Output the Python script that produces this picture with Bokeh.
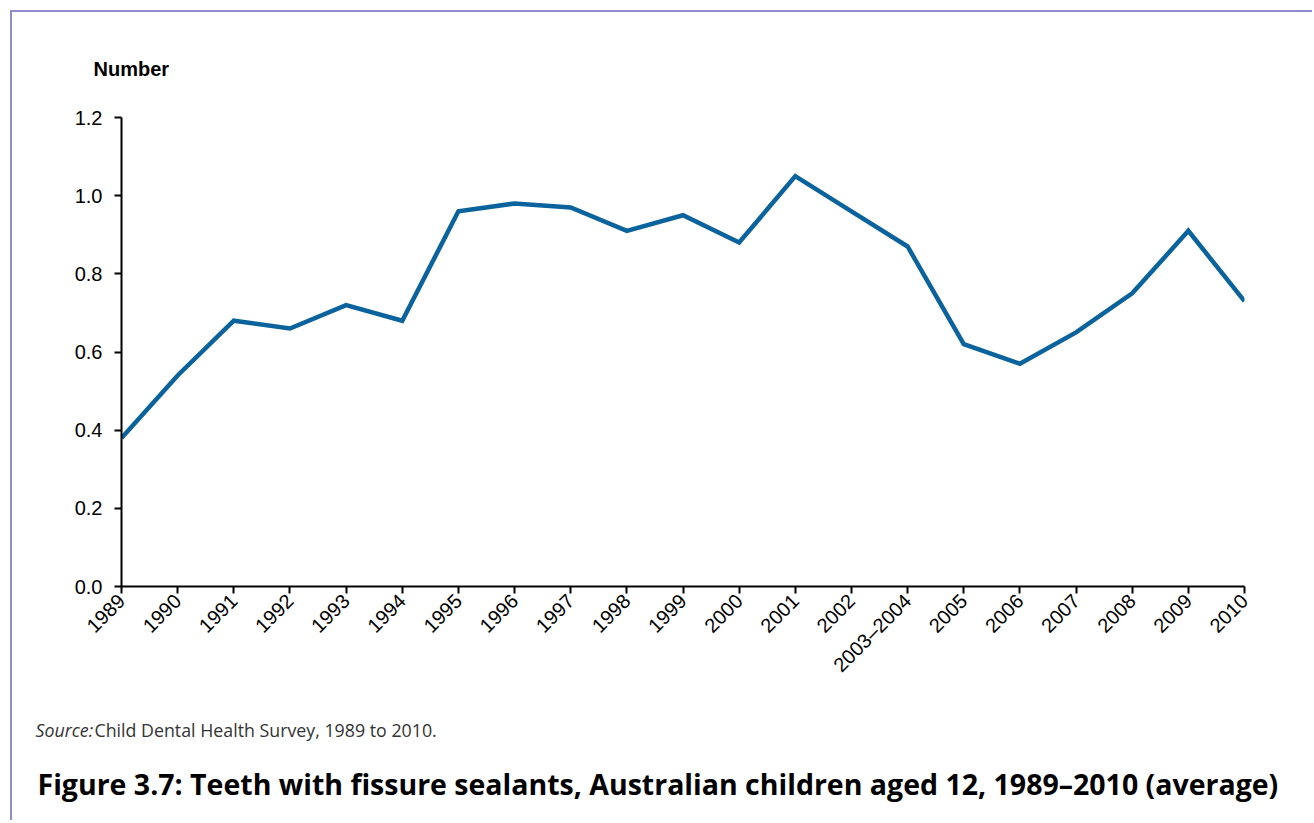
import math
from bokeh.plotting import figure
from bokeh.models import Range1d, FixedTicker, Label, NumeralTickFormatter
from bokeh.layouts import column
from bokeh.embed import file_html
from bokeh.resources import INLINE

years = ["1989", "1990", "1991", "1992", "1993", "1994", "1995", "1996", "1997",
         "1998", "1999", "2000", "2001", "2002", "2003\u20132004", "2005", "2006",
         "2007", "2008", "2009", "2010"]
sealants = [0.38, 0.54, 0.68, 0.66, 0.72, 0.68, 0.96, 0.98, 0.97, 0.91, 0.95,
            0.88, 1.05, 0.96, 0.87, 0.62, 0.57, 0.65, 0.75, 0.91, 0.73]
y_ticks = [0.0, 0.2, 0.4, 0.6, 0.8, 1.0, 1.2]

y_axis_title = "Number"
source_lead = "Source:"
source_text = "Child Dental Health Survey, 1989 to 2010."
fig_title = "Figure 3.7: Teeth with fissure sealants, Australian children aged 12, 1989\u20132010 (average)"

xs = list(range(len(years)))

W = 1300
OX, OY = 12, 12          # page position of the column content
TOP_H, MAIN_H, BOT_H = 88, 600, 120

def blank(height):
    f = figure(width=W, height=height, output_backend="svg", toolbar_location=None,
               x_range=Range1d(0, W), y_range=Range1d(0, height),
               min_border=0, title=None, frame_align=False)
    f.axis.visible = False
    f.grid.visible = False
    f.outline_line_color = None
    return f

# --- top strip: axis title
top = blank(TOP_H)
top.add_layout(Label(x=93 - OX, y=TOP_H - (68 - OY), text=y_axis_title,
                     text_font="Liberation Sans", text_font_style="bold",
                     text_font_size="20px", text_color="black", text_baseline="alphabetic"))

# --- main chart
main_top = OY + TOP_H
frame_left = 121 - OX
frame_right = 1244 - OX
frame_top = 117 - main_top
frame_bottom = 586 - main_top

p = figure(width=W, height=MAIN_H, output_backend="svg", toolbar_location=None,
           x_range=Range1d(0, len(years) - 1), y_range=Range1d(0, 1.2),
           min_border_left=frame_left, min_border_right=W - frame_right,
           min_border_top=frame_top, min_border_bottom=MAIN_H - frame_bottom,
           title=None, frame_align=False)
p.outline_line_color = None
p.grid.visible = False

p.line(xs, sealants, line_color="#0a639c", line_width=4.5, line_join="miter")

ax = p.xaxis[0]
ax.ticker = FixedTicker(ticks=xs)
ax.major_label_overrides = {i: lab for i, lab in enumerate(years)}
ax.major_label_orientation = math.pi / 4
ay = p.yaxis[0]
ay.ticker = FixedTicker(ticks=y_ticks)
ay.formatter = NumeralTickFormatter(format="0.0")
for a in (ax, ay):
    a.major_label_text_font = "Liberation Sans"
    a.major_label_text_font_size = "20px"
    a.major_label_text_color = "black"
    a.axis_line_color = "black"
    a.axis_line_width = 2
    a.major_tick_line_color = "black"
    a.major_tick_line_width = 2
    a.major_tick_out = 7
    a.major_tick_in = 0
    a.minor_tick_line_color = None
ax.major_label_standoff = 4
ay.major_label_standoff = 12

# --- bottom strip: source and caption
bot_top = main_top + MAIN_H
bot = blank(BOT_H)
bot.add_layout(Label(x=35 - OX, y=BOT_H - (729 - bot_top), text=source_lead,
                     text_font="Open Sans", text_font_style="italic",
                     text_font_size="17.8px", text_color="#333333", text_baseline="alphabetic"))
bot.add_layout(Label(x=94 - OX, y=BOT_H - (729 - bot_top), text=source_text,
                     text_font="Open Sans", text_font_size="17.8px",
                     text_color="#333333", text_baseline="alphabetic"))
bot.add_layout(Label(x=37 - OX, y=BOT_H - (783 - bot_top), text=fig_title,
                     text_font="Open Sans", text_font_style="bold",
                     text_font_size="28.5px", text_color="black", text_baseline="alphabetic"))

layout = column(top, p, bot, spacing=0,
                styles={"margin-left": "10px", "margin-top": "10px",
                        "border-top": "2px solid #8c8cd0", "border-left": "2px solid #8c8cd0"})

open("out.html", "w").write(file_html(layout, INLINE))
